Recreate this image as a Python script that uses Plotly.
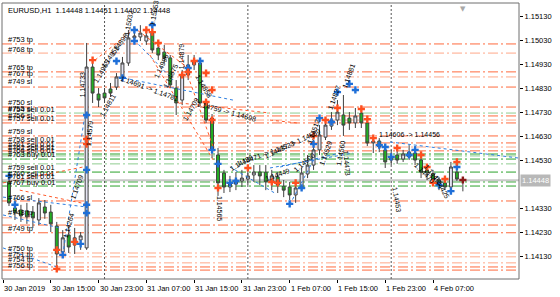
import plotly.graph_objects as go

# ---------------- data ----------------
bar_index = list(range(1, 78))
opens = [1.14441, 1.14333, 1.14325, 1.14321, 1.14316, 1.14283, 1.14337, 1.14316, 1.14258, 1.14150,
         1.14221, 1.14179, 1.14200, 1.14167, 1.14918, 1.14806, 1.14810, 1.14827, 1.14835, 1.14877,
         1.14935, 1.15039, 1.15043, 1.15026, 1.15059, 1.14997, 1.14980, 1.14956, 1.14831, 1.14781,
         1.14885, 1.14927, 1.14935, 1.14769, 1.14706, 1.14553, 1.14478, 1.14420, 1.14432, 1.14445,
         1.14453, 1.14470, 1.14482, 1.14482, 1.14441, 1.14462, 1.14424, 1.14420, 1.14387, 1.14420,
         1.14474, 1.14511, 1.14574, 1.14627, 1.14673, 1.14698, 1.14719, 1.14706, 1.14686, 1.14727,
         1.14686, 1.14603, 1.14611, 1.14574, 1.14532, 1.14553, 1.14536, 1.14545, 1.14561, 1.14532,
         1.14491, 1.14474, 1.14449, 1.14437, 1.14420, 1.14482, 1.14448]
highs = [1.14462, 1.14374, 1.14346, 1.14354, 1.14341, 1.14374, 1.14366, 1.14346, 1.14275, 1.14241,
         1.14262, 1.14250, 1.14233, 1.15018, 1.14947, 1.14831, 1.14831, 1.14852, 1.14893, 1.14960,
         1.15072, 1.15084, 1.15092, 1.15072, 1.15101, 1.15030, 1.15010, 1.14968, 1.14864, 1.14906,
         1.14968, 1.14968, 1.14956, 1.14781, 1.14723, 1.14582, 1.14491, 1.14466, 1.14482, 1.14491,
         1.14499, 1.14511, 1.14511, 1.14511, 1.14491, 1.14482, 1.14449, 1.14441, 1.14432, 1.14499,
         1.14553, 1.14615, 1.14677, 1.14706, 1.14731, 1.14781, 1.14802, 1.14731, 1.14748, 1.14748,
         1.14702, 1.14632, 1.14623, 1.14594, 1.14574, 1.14582, 1.14574, 1.14594, 1.14590, 1.14540,
         1.14511, 1.14491, 1.14462, 1.14449, 1.14524, 1.14511, 1.14451]
lows = [1.14341, 1.14283, 1.14275, 1.14267, 1.14250, 1.14262, 1.14288, 1.14233, 1.14075, 1.14125,
        1.14146, 1.14142, 1.14159, 1.14159, 1.14769, 1.14752, 1.14769, 1.14794, 1.14823, 1.14864,
        1.14923, 1.15022, 1.15026, 1.15010, 1.14976, 1.14947, 1.14935, 1.14831, 1.14719, 1.14760,
        1.14864, 1.14906, 1.14756, 1.14686, 1.14540, 1.14383, 1.14395, 1.14399, 1.14407, 1.14420,
        1.14428, 1.14441, 1.14428, 1.14407, 1.14407, 1.14395, 1.14378, 1.14366, 1.14354, 1.14407,
        1.14457, 1.14491, 1.14553, 1.14615, 1.14657, 1.14677, 1.14632, 1.14657, 1.14665, 1.14665,
        1.14590, 1.14561, 1.14565, 1.14499, 1.14511, 1.14516, 1.14524, 1.14532, 1.14511, 1.14457,
        1.14449, 1.14428, 1.14407, 1.14407, 1.14395, 1.14445, 1.14402]
closes = [1.14354, 1.14312, 1.14300, 1.14296, 1.14292, 1.14354, 1.14312, 1.14267, 1.14142, 1.14209,
          1.14171, 1.14209, 1.14217, 1.14918, 1.14810, 1.14781, 1.14790, 1.14810, 1.14877, 1.14935,
          1.15039, 1.15047, 1.15059, 1.15047, 1.14989, 1.14968, 1.14956, 1.14844, 1.14769, 1.14885,
          1.14927, 1.14939, 1.14769, 1.14698, 1.14574, 1.14437, 1.14420, 1.14437, 1.14449, 1.14457,
          1.14466, 1.14482, 1.14466, 1.14441, 1.14466, 1.14428, 1.14407, 1.14387, 1.14416, 1.14478,
          1.14511, 1.14574, 1.14636, 1.14677, 1.14698, 1.14731, 1.14677, 1.14686, 1.14715, 1.14686,
          1.14603, 1.14611, 1.14586, 1.14524, 1.14545, 1.14532, 1.14557, 1.14565, 1.14532, 1.14482,
          1.14478, 1.14449, 1.14432, 1.14420, 1.14503, 1.14453, 1.14448]

bid_price = 1.14448
title_text = "EURUSD,H1  1.14448 1.14451 1.14402 1.14448"

x_tick_pos = [0, 8, 16, 24, 32, 40, 48, 56, 64, 72]
x_tick_labels = ["30 Jan 2019", "30 Jan 15:00", "30 Jan 23:00", "31 Jan 07:00", "31 Jan 15:00",
                 "31 Jan 23:00", "1 Feb 07:00", "1 Feb 15:00", "1 Feb 23:00", "4 Feb 07:00"]
y_tick_vals = [1.15130, 1.15030, 1.14930, 1.14830, 1.14730, 1.14630, 1.14530, 1.14330, 1.14230, 1.14130]
day_separators = [17, 41, 65]

# horizontal order levels: price, kind (O orange, L light orange, G green, H light green)
level_prices = [1.15014, 1.14976, 1.14898, 1.14877, 1.14835, 1.14752, 1.14727, 1.14715, 1.14698,
                1.14686, 1.14632, 1.14603, 1.14586, 1.14570, 1.14557, 1.14549, 1.14536, 1.14516,
                1.14482, 1.14441, 1.14424, 1.14362, 1.14292, 1.14262, 1.14230, 1.14146, 1.14130,
                1.14105, 1.14088, 1.14075]
level_kinds = ["O", "L", "O", "L", "O", "O", "H", "O", "L",
               "O", "O", "O", "L", "O", "G", "H", "G", "H",
               "G", "G", "G", "O", "L", "O", "O", "L", "L",
               "L", "O", "O"]

level_label_texts = ["#753 tp", "#768 tp", "#765 tp", "#767 tp", "#749 sl", "#750 sl", "#755 sl",
                     "#754 sell 0.01", "#756 sl", "#757 sell 0.01", "#759 sl", "#758 sell 0.01",
                     "#761 sell 0.01", "#762 sell 0.01", "#764 sell 0.01", "#763 buy 0.01",
                     "#759 sell 0.01", "#760 sell 0.01", "#761 sell 0.01", "#767 buy 0.01",
                     "#766 sl", "#748 tp", "#749 tp", "#750 tp", "#751 tp", "#754 tp", "#756 tp"]
level_label_prices = [1.15034, 1.14989, 1.14918, 1.14893, 1.14856, 1.14769, 1.14744,
                      1.14742, 1.14715, 1.14706, 1.14652, 1.14619,
                      1.14598, 1.14582, 1.14570, 1.14553,
                      1.14503, 1.14474, 1.14462, 1.14437,
                      1.14378, 1.14316, 1.14246, 1.14163, 1.14138, 1.14117, 1.14096]

buy_arrow_x = [1, 2, 14, 14, 14, 14, 10, 13, 22, 22, 19, 20, 25, 31, 33, 35, 36, 38, 39, 48, 50,
               52, 53, 55, 56, 58, 59, 63, 64, 65, 68, 69, 73, 75, 76]
buy_arrow_y = [1.14466, 1.14346, 1.14719, 1.14491, 1.14346, 1.14312, 1.14138, 1.14184, 1.15072,
               1.15026, 1.14943, 1.14873, 1.15092, 1.14914, 1.14943, 1.14574, 1.14516, 1.14437,
               1.14445, 1.14350, 1.14416, 1.14598, 1.14706, 1.14690, 1.14814, 1.14848, 1.14823,
               1.14594, 1.14586, 1.14545, 1.14553, 1.14574, 1.14428, 1.14403, 1.14503]
sell_arrow_x = [14, 14, 9, 9, 12, 15, 24, 25, 26, 30, 32, 34, 35, 31, 34, 35, 36, 41, 45, 46, 49,
                52, 54, 56, 60, 61, 62, 66, 70, 71, 72, 74, 76]
sell_arrow_y = [1.14598, 1.14619, 1.14159, 1.14080, 1.14192, 1.14947, 1.15072, 1.15063, 1.15018,
                1.14885, 1.14943, 1.14893, 1.14823, 1.14897, 1.14773, 1.14698, 1.14416, 1.14499,
                1.14441, 1.14437, 1.14437, 1.14632, 1.14698, 1.14748, 1.14744, 1.14702, 1.14623,
                1.14582, 1.14553, 1.14503, 1.14437, 1.14453, 1.14524]
last_arrow_x = [77]
last_arrow_y = [1.14449]

# trade connection lines
trade_x0 = [0, 0, 10, 19.3, 22, 38, 46.4, 64.8, 48, 44.7, 0,
            0, 2.8, 15.4, 21.8, 29.6, 24.6, 29.6, 44.7]
trade_y0 = [1.14304, 1.14167, 1.14138, 1.14877, 1.15030, 1.14503, 1.14503, 1.14607, 1.14346, 1.14499, 1.14378,
            1.14437, 1.14407, 1.14947, 1.15084, 1.14976, 1.14968, 1.14769, 1.14698]
trade_x1 = [9.5, 9, 13.7, 38.5, 28.5, 45.5, 56.4, 86.4, 52, 58.6, 14,
            13.4, 14.6, 21.8, 30.8, 35.2, 35.2, 44.7, 49.2]
trade_y1 = [1.14250, 1.14088, 1.14715, 1.14781, 1.14864, 1.14395, 1.14561, 1.14540, 1.14532, 1.14561, 1.14337,
            1.14503, 1.14346, 1.15072, 1.14918, 1.14586, 1.14532, 1.14727, 1.14686]
trade_kind = ["B"] * 11 + ["S"] * 8

# rotated price labels
note_x = [13.3, 14.4, 12.3, 11.0, 16.5, 18.0, 19.5, 21.0, 25.3, 24.5, 30.0, 33.5, 37.5, 36.3,
          44.0, 48.5, 52.0, 55.5, 57.8, 57.5, 68.0, 66.0, 72.0,
          17.5, 26.5, 28.0, 31.5, 40.0, 46.0, 50.5, 54.0, 56.5, 70.5, 73.5]
note_y = [1.14844, 1.14640, 1.14420, 1.14260, 1.14900, 1.14960, 1.15010, 1.15100, 1.15140, 1.14830,
          1.14960, 1.14840, 1.14735, 1.14330, 1.14560, 1.14600, 1.14650, 1.14790, 1.14880, 1.14520,
          1.14640, 1.14370, 1.14470,
          1.14760, 1.14920, 1.14880, 1.14740, 1.14520, 1.14470, 1.14520, 1.14560, 1.14560, 1.14480,
          1.14420]
note_text = ["1.14733", "1.14579", "1.14709", "1.14264", "1.14965", "1.14958", "1.14896", "1.15032",
             "1.15053", "1.14691 -> 1.14781", "1.14879", "1.14858", "1.14759 -> 1.14698", "1.14565",
             "1.14471 -> 1.14523", "1.14437 -> 1.14589", "1.14512", "1.14827", "1.14881", "1.14473",
             "1.14606 -> 1.14456", "1.14453", "1.14461",
             "1.14811", "1.14996", "1.14875", "1.14709", "1.14486", "1.14449", "1.14500", "1.14529",
             "1.14560", "1.14470", "1.14425"]
note_angle = [-90, -85, -70, -75, -60, -55, -55, -80, -80, 20, -90, 60, 15, 90,
              -20, -25, -70, -70, -70, 85, 0, 80, 50,
              -60, -65, -65, -60, -30, -20, -40, -70, -80, 45, 60]

# ---------------- styling ----------------
FONT = "Liberation Sans"
kind_color = {"O": "#ff6a3d", "L": "#ffa888", "G": "#2aa22a", "H": "#8fcc8f"}
trade_color = {"B": "#2f7fe0", "S": "#ff5a2a"}

x_min, x_max = -0.17, 86.4
y_min, y_max = 1.14038, 1.15184

fig = go.Figure()

for k in range(len(trade_x0)):
    fig.add_trace(go.Scatter(
        x=[trade_x0[k], trade_x1[k]], y=[trade_y0[k], trade_y1[k]], mode="lines",
        line=dict(color=trade_color[trade_kind[k]], width=1, dash="dot"),
        hoverinfo="skip", showlegend=False))

fig.add_trace(go.Candlestick(
    x=bar_index, open=opens, high=highs, low=lows, close=closes,
    increasing=dict(line=dict(color="#404040", width=1), fillcolor="#e4e4f2"),
    decreasing=dict(line=dict(color="#404040", width=1), fillcolor="#22b022"),
    whiskerwidth=0, showlegend=False, hoverinfo="skip"))

fig.add_trace(go.Scatter(x=buy_arrow_x, y=buy_arrow_y, mode="markers",
                         marker=dict(symbol="cross", size=6, color="#1f6fd8"),
                         hoverinfo="skip", showlegend=False))
fig.add_trace(go.Scatter(x=sell_arrow_x, y=sell_arrow_y, mode="markers",
                         marker=dict(symbol="cross", size=6, color="#ff4f1f"),
                         hoverinfo="skip", showlegend=False))
fig.add_trace(go.Scatter(x=last_arrow_x, y=last_arrow_y, mode="markers",
                         marker=dict(symbol="cross", size=6, color="#8b1a1a"),
                         hoverinfo="skip", showlegend=False))

shapes = []
for p, kd in zip(level_prices, level_kinds):
    shapes.append(dict(type="line", xref="paper", x0=0, x1=1, yref="y", y0=p, y1=p,
                       line=dict(color=kind_color[kd], width=1, dash="10px,3px,2px,3px"),
                       layer="below"))
shapes.append(dict(type="line", xref="paper", x0=0, x1=1, yref="y", y0=bid_price, y1=bid_price,
                   line=dict(color="#c8c8c8", width=2), layer="below"))
for s in day_separators:
    shapes.append(dict(type="line", xref="x", x0=s, x1=s, yref="paper", y0=0, y1=1,
                       line=dict(color="#555555", width=1, dash="2px,2px"), layer="below"))
shapes.append(dict(type="rect", xref="paper", yref="paper", x0=0, x1=1, y0=0, y1=1,
                   line=dict(color="#6e6e6e", width=1), layer="above"))

annotations = []
for xp, lab in zip(x_tick_pos, x_tick_labels):
    annotations.append(dict(x=xp, xref="x", y=0, yref="paper", yanchor="top", xanchor="left",
                            yshift=-3, xshift=-1, text=lab, showarrow=False,
                            font=dict(family=FONT, size=7.5, color="#000")))
for t, p in zip(level_label_texts, level_label_prices):
    annotations.append(dict(x=0.008, xref="paper", y=p, yref="y", xanchor="left", yanchor="middle",
                            text=t, showarrow=False, font=dict(family=FONT, size=7.5, color="#000")))
for xx, yy, t, a in zip(note_x, note_y, note_text, note_angle):
    annotations.append(dict(x=xx, xref="x", y=yy, yref="y", text=t, textangle=a, showarrow=False,
                            font=dict(family=FONT, size=7, color="#000")))
annotations.append(dict(x=0.008, xref="paper", y=1, yref="paper", yanchor="top", xanchor="left",
                        yshift=-1, text=title_text, showarrow=False,
                        font=dict(family=FONT, size=7.5, color="#000")))
annotations.append(dict(x=1, xref="paper", y=bid_price, yref="y", xanchor="left", yanchor="middle",
                        xshift=1, text="%.5f" % bid_price, showarrow=False,
                        bgcolor="#b8b8b8", borderpad=1,
                        font=dict(family=FONT, size=7.5, color="#ffffff")))
annotations.append(dict(x=77, xref="x", y=1, yref="paper", yanchor="top", text="▼", showarrow=False,
                        font=dict(family="DejaVu Sans", size=7, color="#a8a8a8")))

fig.update_layout(
    width=560, height=297,
    margin=dict(l=2, r=41, t=3, b=18),
    paper_bgcolor="#ffffff", plot_bgcolor="#ffffff",
    shapes=shapes, annotations=annotations,
    showlegend=False,
    xaxis=dict(range=[x_min, x_max], rangeslider=dict(visible=False), showgrid=False,
               zeroline=False, tickmode="array", tickvals=x_tick_pos, ticktext=[""] * len(x_tick_pos),
               ticks="outside", ticklen=3, tickcolor="#000", showline=False, fixedrange=True),
    yaxis=dict(range=[y_min, y_max], side="right", showgrid=False, zeroline=False,
               tickmode="array", tickvals=y_tick_vals, ticktext=["%.5f" % v for v in y_tick_vals],
               ticks="outside", ticklen=3, tickcolor="#000", showline=False,
               tickfont=dict(family=FONT, size=7.5, color="#000"), fixedrange=True),
)

fig.write_html("out.html")
